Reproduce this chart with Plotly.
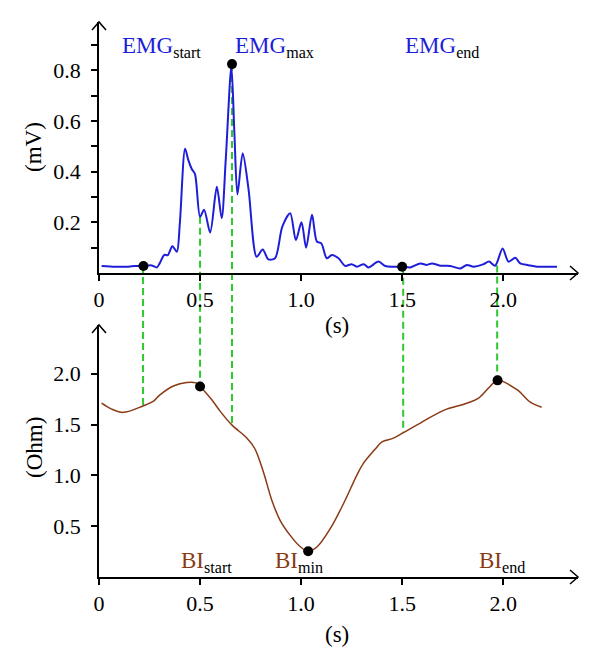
import plotly.graph_objects as go

# ---------------- data ----------------
emg_t = [0.013, 0.08, 0.145, 0.178, 0.22, 0.26, 0.286, 0.30, 0.323, 0.34, 0.363, 0.385, 0.40, 0.426,
         0.442, 0.459, 0.475, 0.50, 0.52, 0.55, 0.583, 0.607, 0.627, 0.655, 0.67, 0.685, 0.711, 0.74,
         0.78, 0.81, 0.838, 0.871, 0.907, 0.946, 0.974, 1.002, 1.025, 1.054, 1.078, 1.10, 1.127, 1.152,
         1.185, 1.218, 1.25, 1.276, 1.31, 1.333, 1.383, 1.416, 1.457, 1.505, 1.54, 1.59, 1.622, 1.647,
         1.688, 1.738, 1.787, 1.82, 1.853, 1.90, 1.93, 1.96, 1.997, 2.026, 2.06, 2.084, 2.125, 2.167,
         2.216, 2.266]
emg_v = [0.028, 0.025, 0.025, 0.028, 0.028, 0.03, 0.022, 0.038, 0.072, 0.07, 0.106, 0.084, 0.196, 0.49,
         0.445, 0.41, 0.39, 0.222, 0.25, 0.16, 0.34, 0.216, 0.445, 0.815, 0.55, 0.31, 0.472, 0.33,
         0.064, 0.093, 0.054, 0.058, 0.183, 0.236, 0.13, 0.2, 0.1, 0.23, 0.124, 0.117, 0.058, 0.071,
         0.058, 0.028, 0.035, 0.025, 0.035, 0.022, 0.045, 0.028, 0.025, 0.025, 0.022, 0.038, 0.032, 0.038,
         0.029, 0.028, 0.018, 0.032, 0.025, 0.034, 0.045, 0.029, 0.097, 0.045, 0.06, 0.038, 0.031, 0.025,
         0.025, 0.025]

bi_t = [0.013, 0.06, 0.12, 0.22, 0.27, 0.30, 0.368, 0.434, 0.48, 0.50, 0.558, 0.60, 0.657, 0.73, 0.77,
        0.813, 0.855, 0.896, 0.946, 0.995, 1.035, 1.078, 1.144, 1.21, 1.276, 1.308, 1.366, 1.40, 1.457,
        1.506, 1.59, 1.705, 1.82, 1.878, 1.935, 1.972, 2.068, 2.134, 2.19]
bi_v = [1.71, 1.655, 1.62, 1.685, 1.73, 1.79, 1.88, 1.915, 1.91, 1.875, 1.744, 1.63, 1.497, 1.37, 1.267,
        1.036, 0.756, 0.558, 0.41, 0.30, 0.253, 0.295, 0.475, 0.723, 1.003, 1.118, 1.257, 1.33, 1.366,
        1.42, 1.515, 1.64, 1.71, 1.76, 1.875, 1.935, 1.843, 1.72, 1.67]

emg_pts_t = [0.22, 0.658, 1.50]
emg_pts_v = [0.028, 0.824, 0.025]
bi_pts_t = [0.50, 1.035, 1.972]
bi_pts_v = [1.875, 0.253, 1.935]

# vertical guide lines: time, EMG value (top end), BI value (bottom end)
guide_t = [0.218, 0.50, 0.658, 1.505, 1.97]
guide_emg = [0.028, 0.222, 0.824, 0.025, 0.03]
guide_bi = [1.685, 1.875, 1.49, 1.42, 1.935]

x_ticks = [0, 0.5, 1.0, 1.5, 2.0]
x_ticktext = ["0", "0.5", "1.0", "1.5", "2.0"]
emg_ticks = [0.2, 0.4, 0.6, 0.8]
emg_ticktext = ["0.2", "0.4", "0.6", "0.8"]
emg_minor = [0.1, 0.3, 0.5, 0.7, 0.9]
bi_ticks = [0.5, 1.0, 1.5, 2.0]
bi_ticktext = ["0.5", "1.0", "1.5", "2.0"]

# ---------------- layout constants ----------------
# page body has an 8px margin, so the figure is sized/offset to compensate
W, H = 592, 663
ML, MR, MT, MB = 91, 22, 14, 94
XMAX = 2.37
TOP_RANGE = [0, 0.99]
BOT_RANGE = [0, 2.48]
TOP_DOM = [0.5477, 1.0]
BOT_DOM = [0.0, 0.4541]

FONT = "Liberation Serif, DejaVu Serif, serif"
BLUE = "#1e1ed8"
BROWN = "#8a3a14"
GREEN = "#2ec92e"
FS = 22


def to_paper(v, rng, dom):
    return dom[0] + (v - rng[0]) / (rng[1] - rng[0]) * (dom[1] - dom[0])


fig = go.Figure()
fig.add_trace(go.Scatter(x=emg_t, y=emg_v, mode="lines", line=dict(color=BLUE, width=2, shape="spline", smoothing=0.8),
                         xaxis="x", yaxis="y", hoverinfo="skip"))
fig.add_trace(go.Scatter(x=bi_t, y=bi_v, mode="lines", line=dict(color=BROWN, width=1.5, shape="spline", smoothing=1.0),
                         xaxis="x2", yaxis="y2", hoverinfo="skip"))
fig.add_trace(go.Scatter(x=emg_pts_t, y=emg_pts_v, mode="markers", marker=dict(color="black", size=10),
                         xaxis="x", yaxis="y", cliponaxis=False))
fig.add_trace(go.Scatter(x=bi_pts_t, y=bi_pts_v, mode="markers", marker=dict(color="black", size=10),
                         xaxis="x2", yaxis="y2", cliponaxis=False))

shapes = []
for t, ev, bv in zip(guide_t, guide_emg, guide_bi):
    shapes.append(dict(type="line", xref="x", yref="paper", x0=t, x1=t,
                       y0=to_paper(ev, TOP_RANGE, TOP_DOM), y1=to_paper(bv, BOT_RANGE, BOT_DOM),
                       line=dict(color=GREEN, width=2, dash="7px,4px"), layer="below"))

# arrow heads on axes (paper-referenced so they are not clipped)
for dom in [TOP_DOM, BOT_DOM]:
    shapes.append(dict(type="path", xref="paper", yref="paper", xsizemode="pixel", ysizemode="pixel",
                       xanchor=1, yanchor=dom[0], path="M-8,-7 L0,0 L-8,7",
                       line=dict(color="black", width=1.5)))
    shapes.append(dict(type="path", xref="paper", yref="paper", xsizemode="pixel", ysizemode="pixel",
                       xanchor=0, yanchor=dom[1], path="M-7,-8 L0,0 L7,-8",
                       line=dict(color="black", width=1.5)))

axis_common = dict(showline=True, linecolor="black", linewidth=1.5, ticks="outside", ticklen=6,
                   tickwidth=1.5, tickcolor="black", showgrid=False, zeroline=False,
                   tickfont=dict(family=FONT, size=FS, color="black"))

ann = []


def lab(x, y, xref, yref, main, sub, color):
    ann.append(dict(x=x, y=y, xref=xref, yref=yref, xanchor="left", yanchor="middle", showarrow=False,
                    text=f"<span style='color:{color}'>{main}</span><sub>{sub}</sub>",
                    font=dict(family=FONT, size=23, color="black")))


lab(0.104, 0.89, "x", "y", "EMG", "start", BLUE)
lab(0.663, 0.89, "x", "y", "EMG", "max", BLUE)
lab(1.505, 0.89, "x", "y", "EMG", "end", BLUE)
lab(0.396, 0.15, "x2", "y2", "BI", "start", BROWN)
lab(0.861, 0.15, "x2", "y2", "BI", "min", BROWN)
lab(1.871, 0.15, "x2", "y2", "BI", "end", BROWN)

PW = W - ML - MR
PH = H - MT - MB


def title(x_px, y_px, text, angle=0):
    # x_px, y_px are window pixel positions (page offset 8px)
    ann.append(dict(x=(x_px - 8 - ML) / PW, y=(H - MB - (y_px - 8)) / PH, xref="paper", yref="paper",
                    xanchor="center", yanchor="middle", showarrow=False, text=text, textangle=angle,
                    font=dict(family=FONT, size=23, color="black")))


title(33, 147, "(mV)", -90)
title(35, 448, "(Ohm)", -90)
title(337, 325, "(s)")
title(337, 634, "(s)")

fig.update_layout(
    width=W, height=H, margin=dict(l=ML, r=MR, t=MT, b=MB),
    paper_bgcolor="white", plot_bgcolor="rgba(0,0,0,0)", showlegend=False,
    xaxis=dict(range=[0, XMAX], domain=[0, 1], anchor="y", tickvals=x_ticks, ticktext=x_ticktext, **axis_common),
    yaxis=dict(range=TOP_RANGE, domain=TOP_DOM, anchor="x", tickvals=emg_ticks, ticktext=emg_ticktext,
               minor=dict(tickvals=emg_minor, ticks="outside", ticklen=6, tickwidth=1.5, tickcolor="black"),
               ticklabelstandoff=6, **axis_common),
    xaxis2=dict(range=[0, XMAX], domain=[0, 1], anchor="y2", tickvals=x_ticks, ticktext=x_ticktext, **axis_common),
    yaxis2=dict(range=BOT_RANGE, domain=BOT_DOM, anchor="x2", tickvals=bi_ticks, ticktext=bi_ticktext,
                ticklabelstandoff=6, **axis_common),
    shapes=shapes, annotations=ann,
)

fig.write_html("out.html")
